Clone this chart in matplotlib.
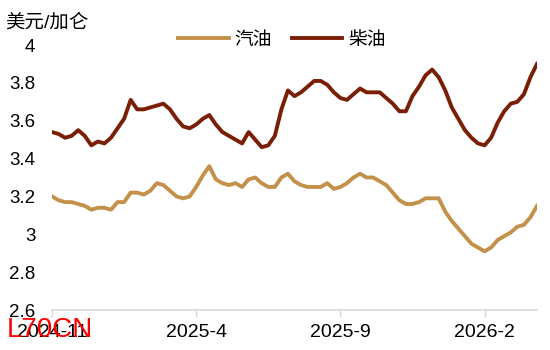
import pandas as pd
import matplotlib
matplotlib.use("Agg")
import matplotlib.pyplot as plt
from matplotlib.ticker import FuncFormatter

plt.rcParams['font.family'] = ['Liberation Sans', 'Noto Sans CJK SC', 'DejaVu Sans']

# weekly prices, USD per gallon
gasoline = [3.20, 3.18, 3.17, 3.17, 3.16, 3.15, 3.13, 3.14, 3.14, 3.13,
            3.17, 3.17, 3.22, 3.22, 3.21, 3.23, 3.27, 3.26, 3.23, 3.20,
            3.19, 3.20, 3.25, 3.31, 3.36, 3.29, 3.27, 3.26, 3.27, 3.25,
            3.29, 3.30, 3.27, 3.25, 3.25, 3.30, 3.32, 3.28, 3.26, 3.25,
            3.25, 3.25, 3.27, 3.24, 3.25, 3.27, 3.30, 3.32, 3.30, 3.30,
            3.28, 3.26, 3.22, 3.18, 3.16, 3.16, 3.17, 3.19, 3.19, 3.19,
            3.12, 3.07, 3.03, 2.99, 2.95, 2.93, 2.91, 2.93, 2.97, 2.99,
            3.01, 3.04, 3.05, 3.09, 3.15]
diesel = [3.54, 3.53, 3.51, 3.52, 3.55, 3.52, 3.47, 3.49, 3.48, 3.51,
          3.56, 3.61, 3.71, 3.66, 3.66, 3.67, 3.68, 3.69, 3.66, 3.61,
          3.57, 3.56, 3.58, 3.61, 3.63, 3.58, 3.54, 3.52, 3.50, 3.48,
          3.54, 3.50, 3.46, 3.47, 3.52, 3.66, 3.76, 3.73, 3.75, 3.78,
          3.81, 3.81, 3.79, 3.75, 3.72, 3.71, 3.74, 3.77, 3.75, 3.75,
          3.75, 3.72, 3.69, 3.65, 3.65, 3.73, 3.78, 3.84, 3.87, 3.83,
          3.76, 3.67, 3.61, 3.55, 3.51, 3.48, 3.47, 3.51, 3.59, 3.65,
          3.69, 3.70, 3.74, 3.83, 3.90]
tick_labels = ["2024-11", "2025-4", "2025-9", "2026-2"]

dates = pd.date_range("2024-11-01", periods=len(diesel), freq="W-FRI")
ticks = [dates[dates.strftime("%Y-%m") == pd.Timestamp(lab).strftime("%Y-%m")][0]
         for lab in tick_labels]

fig = plt.figure(figsize=(5.5, 3.5), dpi=100)
ax = fig.add_axes([52/550, 40/350, 485/550, 265/350])

ax.plot(dates, gasoline, color="#C4914A", lw=2.8, label="汽油")
ax.plot(dates, diesel, color="#7A1F06", lw=2.8, label="柴油")

ax.set_xlim(dates[0], dates[-1])
ax.set_ylim(2.6, 4.0)
ax.set_yticks([2.6, 2.8, 3.0, 3.2, 3.4, 3.6, 3.8, 4.0])
ax.yaxis.set_major_formatter(FuncFormatter(lambda v, p: "{:g}".format(round(v, 1))))
ax.set_xticks(ticks)
ax.set_xticklabels(tick_labels)

for s in ["top", "right", "left"]:
    ax.spines[s].set_visible(False)
ax.spines["bottom"].set_color("#d9d9d9")
ax.spines["bottom"].set_linewidth(1.2)
ax.tick_params(axis="y", length=0, pad=12, labelsize=13.5)
ax.tick_params(axis="x", length=5, color="#d9d9d9", width=1, pad=5, labelsize=14)

ax.legend(loc="center", bbox_to_anchor=(282/550, 1 - 40/350), bbox_transform=fig.transFigure,
          ncol=2, frameon=False, fontsize=13.5, handlelength=2.7, handletextpad=0.3,
          columnspacing=1.05)

fig.text(5/550, 1 - 23/350, "美元/加仑", fontsize=14, va="center", ha="left")
fig.text(7/550, 20/350, "L70CN", fontsize=20, color="red", va="center", ha="left")

fig.savefig("out.png", dpi=100)
